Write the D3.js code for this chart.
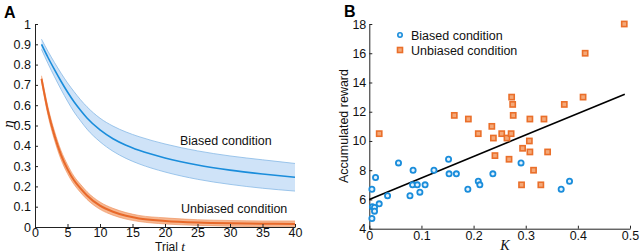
<!DOCTYPE html>
<html>
<head>
<meta charset="utf-8">
<script src="https://cdn.jsdelivr.net/npm/d3@7"></script>
<style>
  body { margin: 0; background: #fff; }
  svg { display: block; font-family: "Liberation Sans", Arial, sans-serif; }
  .axis text { font-size: 12.5px; fill: #111; }
  .axis path, .axis line { stroke: #222; }
</style>
</head>
<body>
<div id="chart"></div>
<script>
// Panel A: eta over trials (mean and band)
const trials     = [1, 2, 3, 4, 5, 6, 7, 8, 10, 12, 14, 16, 20, 25, 30, 35, 40];
const biasedMean = [0.90, 0.835, 0.775, 0.718, 0.665, 0.617, 0.575, 0.537, 0.478, 0.435, 0.403, 0.378, 0.34, 0.305, 0.28, 0.261, 0.245];
const biasedLo   = [0.875, 0.805, 0.74, 0.678, 0.62, 0.567, 0.523, 0.482, 0.42, 0.373, 0.338, 0.311, 0.271, 0.235, 0.21, 0.191, 0.177];
const biasedHi   = [0.925, 0.865, 0.81, 0.758, 0.71, 0.667, 0.627, 0.592, 0.536, 0.497, 0.468, 0.445, 0.409, 0.375, 0.35, 0.331, 0.313];
const unbMean    = [0.73, 0.57, 0.45, 0.355, 0.285, 0.23, 0.19, 0.155, 0.105, 0.075, 0.055, 0.042, 0.03, 0.022, 0.018, 0.016, 0.015];
const unbLo      = [0.718, 0.55, 0.428, 0.333, 0.263, 0.21, 0.17, 0.136, 0.087, 0.058, 0.039, 0.027, 0.015, 0.008, 0.004, 0.002, 0.001];
const unbHi      = [0.745, 0.59, 0.472, 0.377, 0.307, 0.25, 0.21, 0.174, 0.123, 0.092, 0.071, 0.057, 0.045, 0.036, 0.032, 0.030, 0.030];

// Panel B: K vs accumulated reward
const biasedK = [0.005, 0.012, 0.006, 0.010, 0.010, 0.005, 0.019, 0.035, 0.056, 0.078, 0.084, 0.083, 0.092, 0.097, 0.107, 0.124, 0.152, 0.153, 0.167, 0.189, 0.209, 0.212, 0.237, 0.291, 0.368, 0.384];
const biasedR = [6.7, 7.5, 5.5, 5.45, 5.2, 4.7, 5.7, 6.25, 8.5, 6.25, 8.0, 7.0, 7.0, 6.5, 7.0, 8.0, 8.75, 7.75, 7.75, 6.7, 7.25, 7.0, 7.75, 8.5, 6.7, 7.25];
const unbK = [0.489, 0.414, 0.41, 0.374, 0.273, 0.275, 0.276, 0.163, 0.19, 0.308, 0.335, 0.235, 0.019, 0.209, 0.238, 0.254, 0.264, 0.272, 0.241, 0.268, 0.307, 0.294, 0.308, 0.342, 0.315, 0.292, 0.329];
const unbR = [18.0, 16.0, 13.0, 12.5, 13.0, 12.5, 11.75, 11.75, 11.5, 11.5, 11.5, 11.0, 10.5, 10.5, 10.2, 10.5, 10.2, 10.5, 9.0, 8.75, 10.0, 9.5, 9.25, 9.25, 8.0, 7.0, 7.0];
const fitK = [0, 0.49];
const fitR = [6.0, 13.2];

const blue = "#1a8ddb", blueFill = "#cfe3f8", blueEdge = "#86b9e6";
const orange = "#e8692a", orangeFill = "#f6b791", orangeEdge = "#ee8d58";

const svg = d3.select("#chart").append("svg")
  .attr("width", 640)
  .attr("height", 252);

// ---------- Panel A ----------
const xA = d3.scaleLinear().domain([0, 40]).range([35, 295]);
const yA = d3.scaleLinear().domain([0, 1]).range([227, 24]);

function band(lo, hi) {
  return d3.area()
    .x((d, i) => xA(trials[i]))
    .y0((d, i) => yA(lo[i]))
    .y1((d, i) => yA(hi[i]))
    .curve(d3.curveMonotoneX)(trials);
}
function edge(vals) {
  return d3.line()
    .x((d, i) => xA(trials[i]))
    .y((d, i) => yA(vals[i]))
    .curve(d3.curveMonotoneX)(trials);
}

svg.append("path").attr("d", band(biasedLo, biasedHi)).attr("fill", blueFill);
svg.append("path").attr("d", edge(biasedLo)).attr("fill", "none").attr("stroke", blueEdge).attr("stroke-width", 0.8);
svg.append("path").attr("d", edge(biasedHi)).attr("fill", "none").attr("stroke", blueEdge).attr("stroke-width", 0.8);
svg.append("path").attr("d", edge(biasedMean)).attr("fill", "none").attr("stroke", blue).attr("stroke-width", 1.6);

svg.append("path").attr("d", band(unbLo, unbHi)).attr("fill", orangeFill);
svg.append("path").attr("d", edge(unbLo)).attr("fill", "none").attr("stroke", orangeEdge).attr("stroke-width", 0.6);
svg.append("path").attr("d", edge(unbHi)).attr("fill", "none").attr("stroke", orangeEdge).attr("stroke-width", 0.6);
svg.append("path").attr("d", edge(unbMean)).attr("fill", "none").attr("stroke", orange).attr("stroke-width", 2);

svg.append("g").attr("class", "axis")
  .attr("transform", `translate(${xA(0)},0)`)
  .call(d3.axisLeft(yA).tickValues(d3.range(0, 1.01, 0.1)).tickFormat(d3.format("~g")).tickSizeInner(-3).tickSizeOuter(0).tickPadding(4));

svg.append("g").attr("class", "axis")
  .attr("transform", `translate(0,${yA(0)})`)
  .call(d3.axisBottom(xA).tickValues(d3.range(0, 41, 5)).tickSizeInner(-3).tickSizeOuter(0).tickPadding(1.5));

svg.append("text").attr("x", 180).attr("y", 145).attr("font-size", 12.5).attr("fill", "#111").text("Biased condition");
svg.append("text").attr("x", 181).attr("y", 213).attr("font-size", 12.5).attr("fill", "#111").text("Unbiased condition");

const tl = svg.append("text").attr("x", 170).attr("y", 250.5).attr("text-anchor", "middle").attr("font-size", 12).attr("fill", "#111");
tl.append("tspan").text("Trial ");
tl.append("tspan").attr("font-style", "italic").attr("font-family", "Liberation Serif, serif").attr("font-size", 13.5).text("t");

svg.append("text")
  .attr("transform", "translate(13,124) rotate(-90)")
  .attr("text-anchor", "middle")
  .attr("font-family", "Liberation Serif, serif")
  .attr("font-style", "italic")
  .attr("font-size", 15)
  .attr("fill", "#111")
  .text("η");

svg.append("text").attr("x", 4).attr("y", 18).attr("font-size", 16).attr("font-weight", "bold").text("A");

// ---------- Panel B ----------
const xB = d3.scaleLinear().domain([0, 0.5]).range([369.3, 630]);
const yB = d3.scaleLinear().domain([4, 18]).range([228.7, 24]);

svg.append("g").attr("class", "axis")
  .attr("transform", `translate(${xB(0)},0)`)
  .call(d3.axisLeft(yB).tickValues(d3.range(4, 19, 2)).tickSizeInner(-3).tickSizeOuter(0).tickPadding(3));

svg.append("g").attr("class", "axis")
  .attr("transform", `translate(0,${yB(4)})`)
  .call(d3.axisBottom(xB).tickValues(d3.range(0, 0.51, 0.1)).tickFormat(d3.format("~g")).tickSizeInner(-3).tickSizeOuter(0).tickPadding(2));

svg.append("line")
  .attr("x1", xB(fitK[0])).attr("y1", yB(fitR[0]))
  .attr("x2", xB(fitK[1])).attr("y2", yB(fitR[1]))
  .attr("stroke", "#000").attr("stroke-width", 1.6);

svg.append("g").selectAll("circle")
  .data(biasedK)
  .join("circle")
  .attr("cx", d => xB(d))
  .attr("cy", (d, i) => yB(biasedR[i]))
  .attr("r", 2.6)
  .attr("fill", "#e4f2fc")
  .attr("stroke", blue)
  .attr("stroke-width", 1.8);

svg.append("g").selectAll("rect")
  .data(unbK)
  .join("rect")
  .attr("x", d => xB(d) - 2.6)
  .attr("y", (d, i) => yB(unbR[i]) - 2.6)
  .attr("width", 5.2)
  .attr("height", 5.2)
  .attr("fill", "#f4a878")
  .attr("stroke", "#ea6f2a")
  .attr("stroke-width", 1.6);

// Legend
svg.append("circle").attr("cx", 400).attr("cy", 35).attr("r", 2.2).attr("fill", "#e4f2fc").attr("stroke", blue).attr("stroke-width", 1.6);
svg.append("text").attr("x", 411).attr("y", 40).attr("font-size", 12.5).attr("fill", "#111").text("Biased condition");
svg.append("rect").attr("x", 397.5).attr("y", 47.5).attr("width", 5).attr("height", 5).attr("fill", "#f4a878").attr("stroke", "#ea6f2a").attr("stroke-width", 1.6);
svg.append("text").attr("x", 411).attr("y", 54.5).attr("font-size", 12.5).attr("fill", "#111").text("Unbiased condition");

svg.append("text")
  .attr("transform", "translate(348,126) rotate(-90)")
  .attr("text-anchor", "middle")
  .attr("font-size", 12.5)
  .attr("fill", "#111")
  .text("Accumulated reward");

svg.append("text")
  .attr("x", 505).attr("y", 249.5)
  .attr("text-anchor", "middle")
  .attr("font-family", "Liberation Serif, serif")
  .attr("font-style", "italic")
  .attr("font-size", 14)
  .attr("fill", "#111")
  .text("K");

svg.append("text").attr("x", 344).attr("y", 17).attr("font-size", 16).attr("font-weight", "bold").text("B");
</script>
</body>
</html>
